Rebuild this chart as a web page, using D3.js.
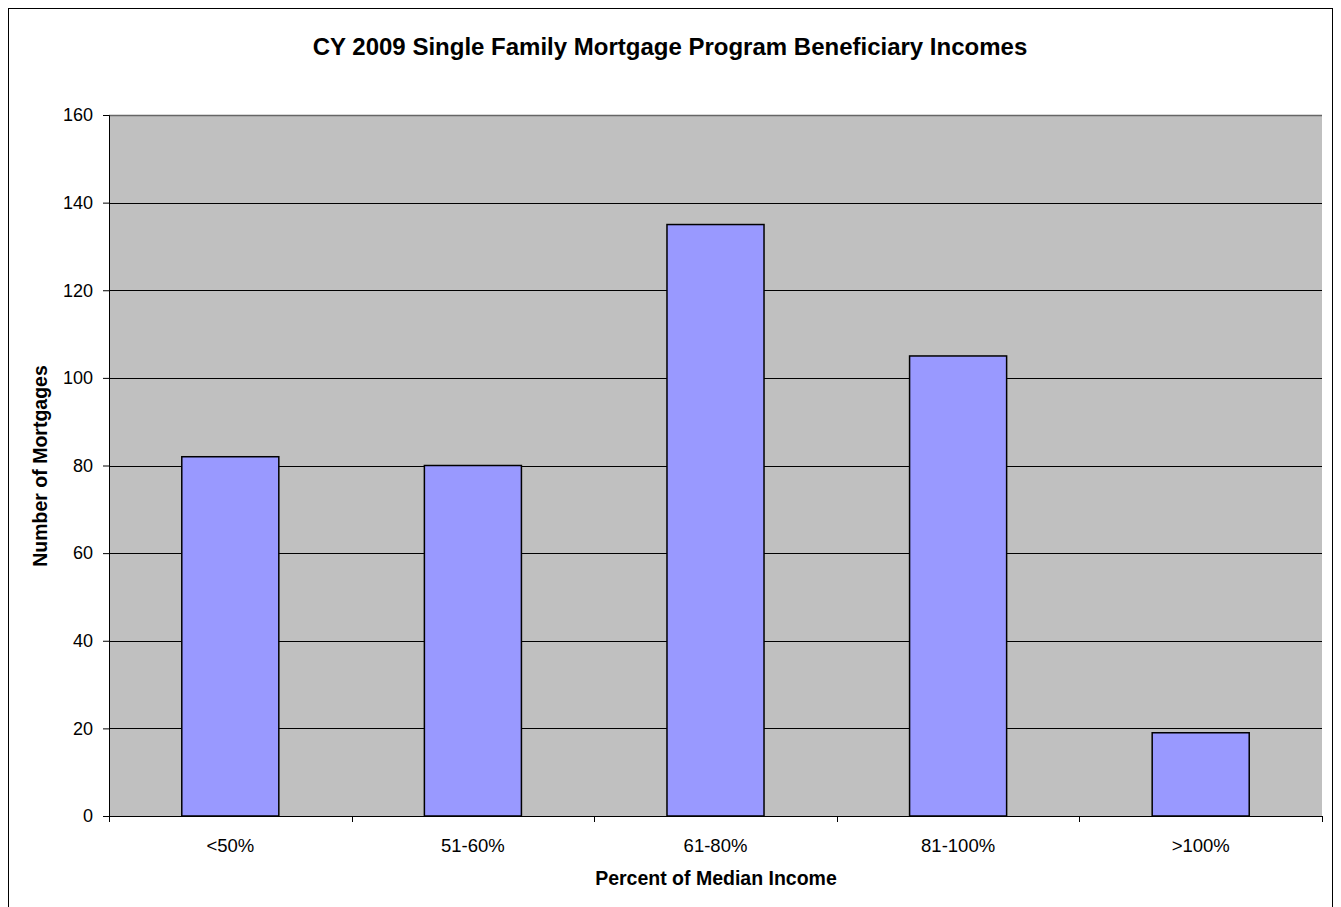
<!DOCTYPE html>
<html>
<head>
<meta charset="utf-8">
<script src="https://cdn.jsdelivr.net/npm/d3@7"></script>
<style>
  html, body { margin: 0; padding: 0; background: #fff; }
  svg { display: block; font-family: "Liberation Sans", Arial, sans-serif; }
</style>
</head>
<body>
<svg id="chart" width="1341" height="907"></svg>
<script>
// Mortgage counts by income bracket
const categories = ["<50%", "51-60%", "61-80%", "81-100%", ">100%"];
const mortgages = [82, 80, 135, 105, 19];
const yTicks = [0, 20, 40, 60, 80, 100, 120, 140, 160];

const svg = d3.select("#chart");
const plot = { left: 109, right: 1322, top: 115, bottom: 816 };

// outer frame
svg.append("rect")
  .attr("x", 8.5).attr("y", 8.5)
  .attr("width", 1324).attr("height", 910)
  .attr("fill", "#fff").attr("stroke", "#000").attr("stroke-width", 1);

const x = d3.scaleBand().domain(categories).range([plot.left, plot.right]).paddingInner(0.6).paddingOuter(0.3);
const xOuter = d3.scaleBand().domain(categories).range([plot.left, plot.right]);
const y = d3.scaleLinear().domain([0, 160]).range([plot.bottom, plot.top]);

// plot background
svg.append("rect")
  .attr("x", plot.left).attr("y", plot.top)
  .attr("width", plot.right - plot.left).attr("height", plot.bottom - plot.top)
  .attr("fill", "#c0c0c0");

// gridlines
svg.append("g").selectAll("line")
  .data(yTicks.filter(d => d > 0))
  .join("line")
  .attr("x1", plot.left).attr("x2", plot.right)
  .attr("y1", d => Math.round(y(d)) + 0.5).attr("y2", d => Math.round(y(d)) + 0.5)
  .attr("stroke", d => d === 160 ? "#666" : "#000")
  .attr("stroke-width", d => d === 160 ? 1.5 : 1);

// bars
svg.append("g").selectAll("rect")
  .data(categories)
  .join("rect")
  .attr("x", d => x(d))
  .attr("y", (d, i) => y(mortgages[i]))
  .attr("width", x.bandwidth())
  .attr("height", (d, i) => y(0) - y(mortgages[i]))
  .attr("fill", "#9999ff")
  .attr("stroke", "#000")
  .attr("stroke-width", 1.5);

// y axis
const yAxis = d3.axisLeft(y).tickValues(yTicks).tickSize(6).tickPadding(10);
const gy = svg.append("g").attr("transform", `translate(${plot.left},0)`).call(yAxis);
gy.select(".domain").attr("stroke", "#000");
gy.selectAll(".tick text").attr("font-size", 18).attr("fill", "#000")
  .attr("font-family", "Liberation Sans, Arial, sans-serif");

// x axis with boundary ticks
svg.append("line")
  .attr("x1", plot.left).attr("x2", plot.right)
  .attr("y1", plot.bottom + 0.5).attr("y2", plot.bottom + 0.5)
  .attr("stroke", "#000");
const bounds = categories.map(c => xOuter(c)).concat([plot.right]);
svg.append("g").selectAll("line")
  .data(bounds)
  .join("line")
  .attr("x1", d => Math.round(d) + 0.5).attr("x2", d => Math.round(d) + 0.5)
  .attr("y1", plot.bottom).attr("y2", plot.bottom + 6)
  .attr("stroke", "#000");
svg.append("g").selectAll("text")
  .data(categories)
  .join("text")
  .attr("x", d => xOuter(d) + xOuter.bandwidth() / 2)
  .attr("y", 852)
  .attr("text-anchor", "middle")
  .attr("font-size", 18.5)
  .text(d => d);

// titles
svg.append("text")
  .attr("x", 670).attr("y", 55)
  .attr("text-anchor", "middle")
  .attr("font-size", 24).attr("font-weight", "bold")
  .text("CY 2009 Single Family Mortgage Program Beneficiary Incomes");

svg.append("text")
  .attr("x", 716).attr("y", 885)
  .attr("text-anchor", "middle")
  .attr("font-size", 19.5).attr("font-weight", "bold")
  .text("Percent of Median Income");

svg.append("text")
  .attr("transform", `translate(47,466) rotate(-90)`)
  .attr("text-anchor", "middle")
  .attr("font-size", 19.5).attr("font-weight", "bold")
  .text("Number of Mortgages");
</script>
</body>
</html>
